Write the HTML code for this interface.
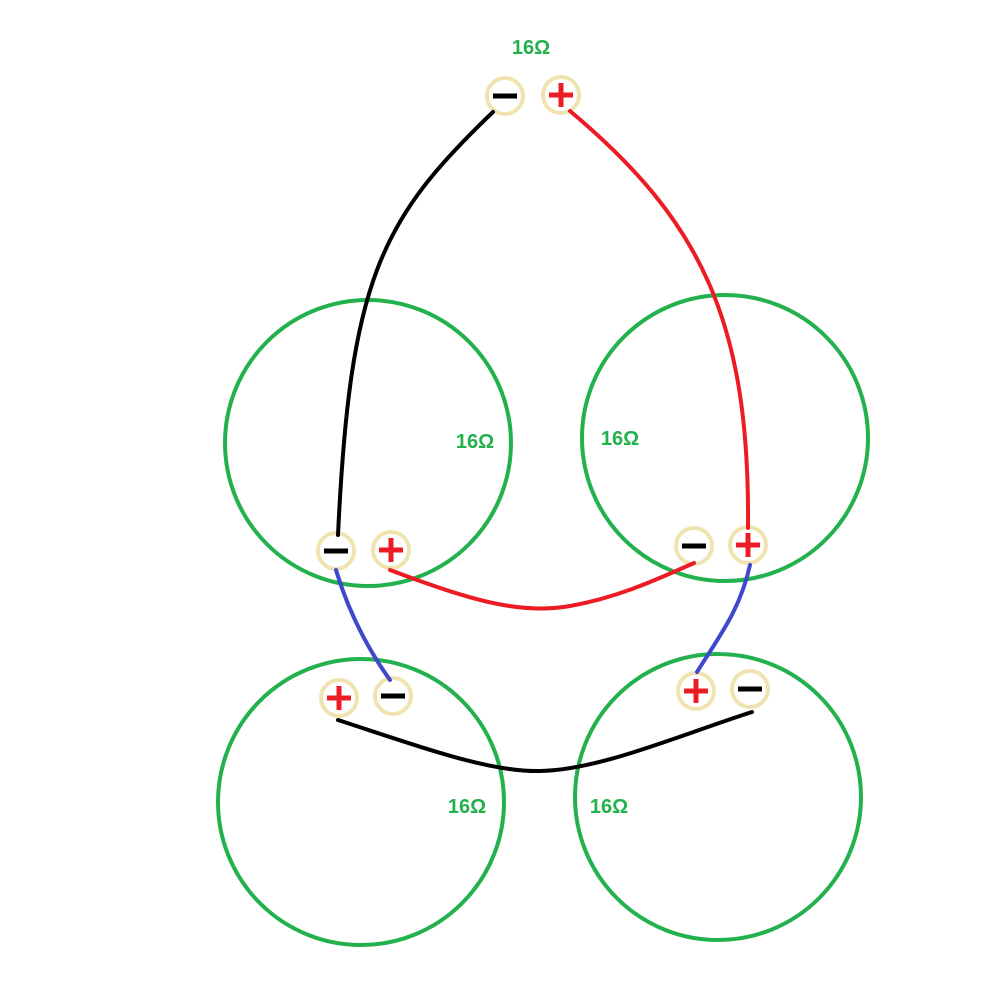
<!DOCTYPE html>
<html><head><style>body{margin:0;background:#fff}svg{display:block}</style></head>
<body>
<svg width="1000" height="1000" xmlns="http://www.w3.org/2000/svg">
<g fill="none" stroke="#22b14c" stroke-width="4">
<circle cx="368" cy="443" r="143"/>
<circle cx="725" cy="438" r="143"/>
<circle cx="361" cy="802" r="143"/>
<circle cx="718" cy="797" r="143"/>
</g>
<g font-family="Liberation Sans, sans-serif" font-weight="bold" font-size="20" fill="#22b14c" text-anchor="middle">
<text x="531" y="54">16Ω</text>
<text x="475" y="448">16Ω</text>
<text x="620" y="445">16Ω</text>
<text x="467" y="813">16Ω</text>
<text x="609" y="813">16Ω</text>
</g>
<g fill="#fff" stroke="#efe4b0" stroke-width="4">
<circle cx="505" cy="96" r="18"/><circle cx="561" cy="95" r="18"/>
<circle cx="336" cy="551" r="18"/><circle cx="391" cy="550" r="18"/>
<circle cx="694" cy="546" r="18"/><circle cx="748" cy="545" r="18"/>
<circle cx="339" cy="698" r="18"/><circle cx="393" cy="696" r="18"/>
<circle cx="696" cy="691" r="18"/><circle cx="750" cy="689" r="18"/>
</g>
<g fill="none" stroke-width="4" stroke-linecap="round">
<path d="M493 112 C380 220 350 280 338 535" stroke="#000"/>
<path d="M570 111 C700 220 750 320 748 528" stroke="#ed1c24"/>
<path d="M390 570 C470 600 520 615 570 606 C620 597 660 578 694 563" stroke="#ed1c24"/>
<path d="M336 570 C348 610 365 645 390 680" stroke="#3f48cc"/>
<path d="M750 565 C740 610 720 635 697 672" stroke="#3f48cc"/>
<path d="M338 720 C430 750 490 772 540 771 C600 770 680 735 752 712" stroke="#000"/>
</g>
<g stroke-width="5" stroke-linecap="butt">
<g stroke="#000">
<line x1="493" y1="96" x2="517" y2="96"/>
<line x1="324" y1="551" x2="348" y2="551"/>
<line x1="682" y1="546" x2="706" y2="546"/>
<line x1="381" y1="696" x2="405" y2="696"/>
<line x1="738" y1="689" x2="762" y2="689"/>
</g>
<g stroke="#ed1c24">
<line x1="549" y1="95" x2="573" y2="95"/><line x1="561" y1="83" x2="561" y2="107"/>
<line x1="379" y1="550" x2="403" y2="550"/><line x1="391" y1="538" x2="391" y2="562"/>
<line x1="736" y1="545" x2="760" y2="545"/><line x1="748" y1="533" x2="748" y2="557"/>
<line x1="327" y1="698" x2="351" y2="698"/><line x1="339" y1="686" x2="339" y2="710"/>
<line x1="684" y1="691" x2="708" y2="691"/><line x1="696" y1="679" x2="696" y2="703"/>
</g>
</g>
</svg>
</body></html>
